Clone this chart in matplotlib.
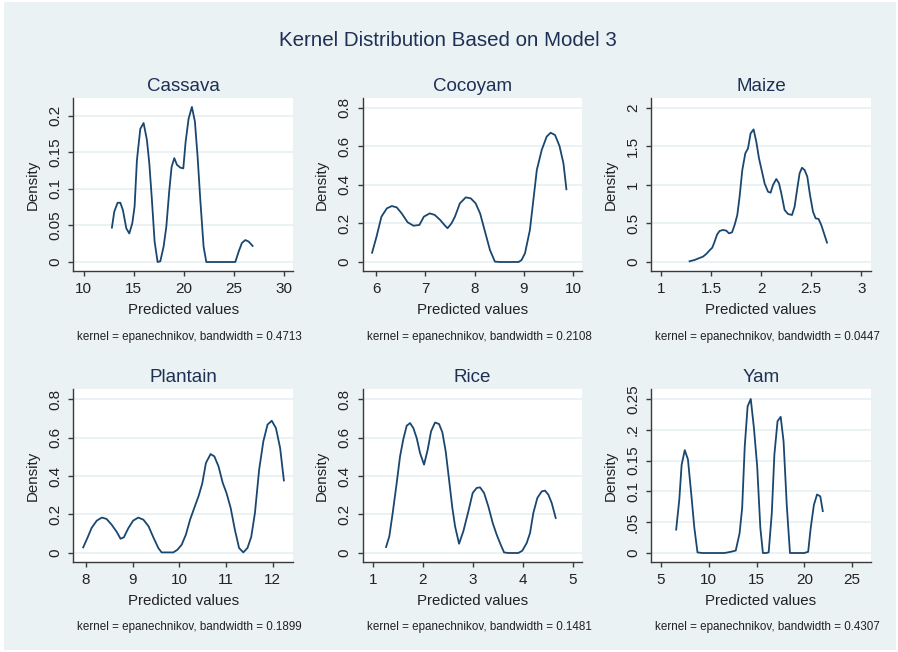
"""
Kernel density panels of predicted values, one per crop (Model 3)
"""

import matplotlib
matplotlib.use('Agg')
import matplotlib.pyplot as plt
from matplotlib.patches import Rectangle

plt.rcParams['font.family'] = ['Liberation Sans', 'DejaVu Sans']

W, H = 898, 652
BG = '#eaf2f3'
NAVY = '#1a476f'
TITLE_COLOR = '#1f2f55'
AXIS_COLOR = '#3a3a3a'

# Density estimates read off each kernel fit
cassava_x = [12.83, 13.07, 13.4, 13.67, 13.93, 14.27, 14.57, 14.87, 15.1, 15.33, 15.67, 16.0,
             16.33, 16.57, 16.83, 17.1, 17.4, 17.67, 18.0, 18.27, 18.57, 18.8, 19.07, 19.33,
             19.67, 19.97, 20.2, 20.5, 20.83, 21.13, 21.4, 21.67, 22.0, 22.27, 25.17, 25.5,
             25.83, 26.17, 26.5, 26.9]
cassava_y = [0.047, 0.069, 0.081, 0.081, 0.071, 0.046, 0.039, 0.053, 0.076, 0.139, 0.182, 0.19,
             0.167, 0.135, 0.085, 0.028, 0.0, 0.001, 0.021, 0.048, 0.098, 0.130, 0.142, 0.133,
             0.129, 0.128, 0.164, 0.196, 0.212, 0.192, 0.144, 0.085, 0.021, 0.0, 0.0, 0.014,
             0.026, 0.030, 0.028, 0.022]

cocoyam_x = [5.92, 6.01, 6.11, 6.22, 6.32, 6.42, 6.52, 6.64, 6.76, 6.88, 6.97, 7.09, 7.19, 7.30,
             7.40, 7.45, 7.53, 7.60, 7.70, 7.82, 7.92, 8.02, 8.11, 8.21, 8.31, 8.41, 8.51, 8.89,
             8.95, 9.02, 9.12, 9.19, 9.26, 9.36, 9.46, 9.54, 9.63, 9.72, 9.80, 9.86]
cocoyam_y = [0.048, 0.131, 0.235, 0.278, 0.290, 0.283, 0.252, 0.206, 0.188, 0.192, 0.235, 0.252,
             0.244, 0.218, 0.188, 0.175, 0.200, 0.235, 0.304, 0.335, 0.330, 0.304, 0.252, 0.157,
             0.062, 0.002, 0.0, 0.0, 0.01, 0.045, 0.166, 0.321, 0.477, 0.581, 0.650, 0.670,
             0.658, 0.601, 0.511, 0.377]

maize_x = [1.283, 1.333, 1.383, 1.417, 1.45, 1.483, 1.51, 1.533, 1.557, 1.583, 1.617, 1.65,
           1.677, 1.707, 1.733, 1.76, 1.783, 1.81, 1.84, 1.867, 1.893, 1.923, 1.95, 1.977,
           2.007, 2.033, 2.067, 2.093, 2.117, 2.15, 2.177, 2.2, 2.233, 2.267, 2.307, 2.333,
           2.36, 2.383, 2.407, 2.433, 2.46, 2.487, 2.517, 2.543, 2.573, 2.6, 2.627, 2.657]
maize_y = [0.009, 0.026, 0.052, 0.069, 0.104, 0.151, 0.186, 0.263, 0.354, 0.402, 0.415, 0.406,
           0.371, 0.384, 0.479, 0.609, 0.847, 1.192, 1.408, 1.473, 1.667, 1.719, 1.559, 1.343,
           1.171, 1.019, 0.911, 0.898, 0.998, 1.076, 1.019, 0.890, 0.674, 0.622, 0.609, 0.717,
           0.955, 1.149, 1.222, 1.192, 1.106, 0.868, 0.652, 0.566, 0.557, 0.479, 0.371, 0.251]

plantain_x = [7.94, 8.03, 8.12, 8.23, 8.34, 8.44, 8.55, 8.66, 8.74, 8.81, 8.91, 9.01, 9.12, 9.23,
              9.34, 9.44, 9.55, 9.62, 9.73, 9.87, 9.96, 10.05, 10.14, 10.23, 10.32, 10.41, 10.49,
              10.57, 10.67, 10.75, 10.84, 10.93, 11.01, 11.10, 11.19, 11.28, 11.37, 11.46, 11.54,
              11.62, 11.71, 11.80, 11.89, 11.98, 12.07, 12.16, 12.24]
plantain_y = [0.029, 0.078, 0.13, 0.168, 0.184, 0.177, 0.147, 0.109, 0.074, 0.081, 0.130, 0.168,
              0.184, 0.173, 0.139, 0.083, 0.026, 0.003, 0.003, 0.003, 0.017, 0.043, 0.095, 0.173,
              0.234, 0.294, 0.360, 0.468, 0.514, 0.502, 0.450, 0.364, 0.312, 0.234, 0.121, 0.026,
              0.003, 0.026, 0.083, 0.208, 0.433, 0.580, 0.667, 0.687, 0.649, 0.545, 0.377]

rice_x = [1.267, 1.333, 1.4, 1.48, 1.547, 1.613, 1.68, 1.747, 1.813, 1.88, 1.947, 2.027, 2.1,
          2.167, 2.247, 2.327, 2.393, 2.46, 2.527, 2.593, 2.647, 2.727, 2.813, 2.913, 3.0, 3.08,
          3.147, 3.227, 3.313, 3.4, 3.48, 3.56, 3.627, 3.713, 3.913, 3.993, 4.08, 4.147, 4.213,
          4.293, 4.38, 4.447, 4.513, 4.58, 4.66]
rice_y = [0.031, 0.087, 0.208, 0.364, 0.502, 0.592, 0.661, 0.675, 0.649, 0.597, 0.519, 0.459,
          0.537, 0.632, 0.678, 0.670, 0.627, 0.528, 0.381, 0.234, 0.139, 0.048, 0.113, 0.216,
          0.312, 0.338, 0.341, 0.312, 0.242, 0.156, 0.095, 0.043, 0.003, 0.0, 0.0, 0.012, 0.052,
          0.104, 0.208, 0.286, 0.320, 0.324, 0.303, 0.260, 0.182]

yam_x = [6.6, 6.93, 7.17, 7.5, 7.83, 8.17, 8.5, 8.83, 9.33, 11.67, 12.33, 12.83, 13.23, 13.5,
         13.77, 14.07, 14.4, 14.73, 15.07, 15.4, 15.67, 16.0, 16.27, 16.6, 16.87, 17.2, 17.53,
         17.83, 18.17, 18.5, 18.83, 20.0, 20.4, 20.67, 21.0, 21.33, 21.67, 21.93]
yam_y = [0.038, 0.087, 0.143, 0.167, 0.152, 0.097, 0.041, 0.001, 0.0, 0.0, 0.002, 0.004, 0.032,
         0.073, 0.173, 0.238, 0.25, 0.203, 0.141, 0.041, 0.0, 0.0, 0.001, 0.065, 0.160, 0.214,
         0.221, 0.181, 0.076, 0.0, 0.0, 0.0, 0.002, 0.041, 0.078, 0.095, 0.092, 0.068]

crops = ['Cassava', 'Cocoyam', 'Maize', 'Plantain', 'Rice', 'Yam']
bandwidths = ['0.4713', '0.2108', '0.0447', '0.1899', '0.1481', '0.4307']
series = [(cassava_x, cassava_y), (cocoyam_x, cocoyam_y), (maize_x, maize_y),
          (plantain_x, plantain_y), (rice_x, rice_y), (yam_x, yam_y)]

x_ticks = [[10, 15, 20, 25, 30], [6, 7, 8, 9, 10], [1, 1.5, 2, 2.5, 3],
           [8, 9, 10, 11, 12], [1, 2, 3, 4, 5], [5, 10, 15, 20, 25]]
x_ticklabels = [['10', '15', '20', '25', '30'], ['6', '7', '8', '9', '10'],
                ['1', '1.5', '2', '2.5', '3'], ['8', '9', '10', '11', '12'],
                ['1', '2', '3', '4', '5'], ['5', '10', '15', '20', '25']]
y_ticks = [[0, 0.05, 0.1, 0.15, 0.2], [0, 0.2, 0.4, 0.6, 0.8], [0, 0.5, 1, 1.5, 2],
           [0, 0.2, 0.4, 0.6, 0.8], [0, 0.2, 0.4, 0.6, 0.8], [0, 0.05, 0.1, 0.15, 0.2, 0.25]]
y_ticklabels = [['0', '0.05', '0.1', '0.15', '0.2'], ['0', '0.2', '0.4', '0.6', '0.8'],
                ['0', '0.5', '1', '1.5', '2'], ['0', '0.2', '0.4', '0.6', '0.8'],
                ['0', '0.2', '0.4', '0.6', '0.8'], ['0', '.05', '0.1', '0.15', '.2', '0.25']]

x_limits = [(8.97, 30.97), (5.73, 10.17), (0.9, 3.094), (7.728, 12.442), (0.8, 5.18), (4.0, 26.94)]
y_limits = [(-0.0123, 0.2242), (-0.0467, 0.850), (-0.117, 2.126),
            (-0.0468, 0.852), (-0.0468, 0.852), (-0.0146, 0.2662)]

# plot area boxes in pixels: left, right / top, bottom
col_edges = [(73.3, 293.3), (362.7, 581.7), (651.3, 870.7)]
row_edges = [(98, 271), (389, 562)]


def rect(l, r, t, b):
    return [l / W, 1 - b / H, (r - l) / W, (b - t) / H]


fig = plt.figure(figsize=(W / 100, H / 100), dpi=100, facecolor='white')
fig.patches.append(Rectangle((4 / W, 2 / H), (W - 6) / W, (H - 4) / H,
                             transform=fig.transFigure, facecolor=BG,
                             edgecolor='none', zorder=-10))

fig.text(447.5 / W, 1 - 40 / H, 'Kernel Distribution Based on Model 3',
         ha='center', va='center', fontsize=14.8, color=TITLE_COLOR)

for i, crop in enumerate(crops):
    row, col = divmod(i, 3)
    l, r = col_edges[col]
    t, b = row_edges[row]
    ax = fig.add_axes(rect(l, r, t, b))
    ax.set_facecolor('white')

    xs, ys = series[i]
    ax.plot(xs, ys, color=NAVY, linewidth=1.3, zorder=3)

    ax.set_xlim(*x_limits[i])
    ax.set_ylim(*y_limits[i])
    ax.set_xticks(x_ticks[i])
    ax.set_xticklabels(x_ticklabels[i])
    ax.set_yticks(y_ticks[i])
    ax.set_yticklabels(y_ticklabels[i], rotation=90, va='center')

    ax.grid(axis='y', color=BG, linewidth=1.4, zorder=1)
    for side in ['top', 'right']:
        ax.spines[side].set_visible(False)
    for side in ['left', 'bottom']:
        ax.spines[side].set_color(AXIS_COLOR)
        ax.spines[side].set_linewidth(1.0)
    ax.tick_params(length=3.6, width=1.0, color=AXIS_COLOR, labelsize=11,
                   labelcolor='#222222', pad=4.5)

    ax.set_xlabel('Predicted values', fontsize=10.8, color='#222222', labelpad=5)
    ax.set_ylabel('Density', fontsize=10.8, color='#222222', labelpad=6)
    ax.set_title(crop, fontsize=13.5, color=TITLE_COLOR, pad=5)

    note_y = 337 if row == 0 else 627
    fig.text((l + 4) / W, 1 - note_y / H,
             f'kernel = epanechnikov, bandwidth = {bandwidths[i]}',
             ha='left', va='center', fontsize=8.4, color='#222222')

fig.savefig('out.png', dpi=100, facecolor=fig.get_facecolor())
